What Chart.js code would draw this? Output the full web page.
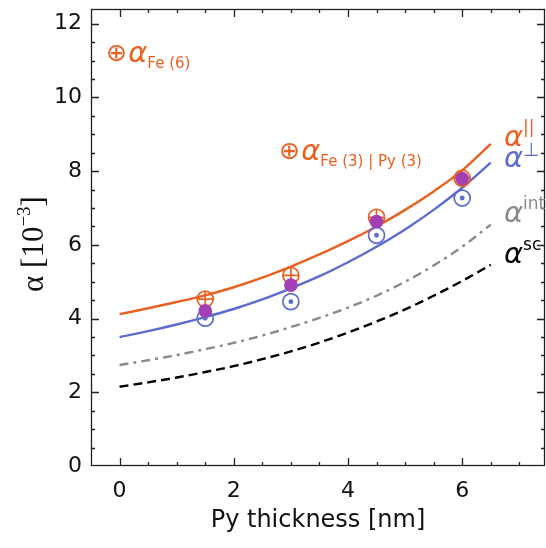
<!DOCTYPE html>
<html>
<head>
<meta charset="utf-8">
<style>
html, body { margin: 0; padding: 0; background: #fff; overflow: hidden; }
#wrap { width: 546px; height: 548px; }
canvas { display: block; }
</style>
</head>
<body>
<div id="wrap"><canvas id="chart"></canvas></div>
<script src="https://cdn.jsdelivr.net/npm/chart.js@4/dist/chart.umd.min.js"></script>
<script>
// fitted curves, every 0.5 nm
const thickness = [0, 0.5, 1, 1.5, 2, 2.5, 3, 3.5, 4, 4.5, 5, 5.5, 6, 6.5]
const alphaPar  = [4.12, 4.28, 4.45, 4.63, 4.85, 5.11, 5.41, 5.74, 6.1, 6.5, 6.95, 7.45, 8.02, 8.74]
const alphaPerp = [3.5, 3.66, 3.84, 4.04, 4.26, 4.52, 4.82, 5.15, 5.53, 5.95, 6.42, 6.95, 7.55, 8.23]
const alphaInt  = [2.74, 2.87, 3.01, 3.17, 3.34, 3.54, 3.77, 4.02, 4.3, 4.62, 5.0, 5.44, 5.95, 6.55]
const alphaSc   = [2.15, 2.27, 2.4, 2.55, 2.71, 2.9, 3.11, 3.35, 3.62, 3.92, 4.25, 4.62, 5.02, 5.46]

// measured points
const sampleX  = [1.5, 3, 4.5, 6]
const measPar  = [4.53, 5.17, 6.75, 7.81]
const measPerp = [4.01, 4.46, 6.26, 7.27]
const measMix  = [4.21, 4.91, 6.63, 7.8]

const xTicks = [0, 2, 4, 6]
const yTicks = [0, 2, 4, 6, 8, 10, 12]

const ORANGE = '#ea6020'
const BLUE = '#5a6cd0'
const PURPLE = '#a040b4'
const GRAY = '#8a8a8a'
const FONT = '"DejaVu Sans", Verdana, sans-serif'
const SERIF = '"Liberation Serif", "DejaVu Serif", serif'

const pts = (xs, ys) => xs.map((v, i) => ({x: v, y: ys[i]}))

const curve = (data, color, dash) => ({
    type: 'line', data: pts(thickness, data), borderColor: color, borderWidth: 2.4,
    borderDash: dash, pointRadius: 0, cubicInterpolationMode: 'monotone', fill: false, order: 5
})

const marks = (data, style, color, r, fillColor, order) => ({
    type: 'scatter', data: pts(sampleX, data), pointStyle: style, pointRadius: r,
    pointBorderColor: color, pointBackgroundColor: fillColor, pointBorderWidth: 1.7,
    pointHoverRadius: r, order: order
})

// draw a run of text pieces: [text, size, color, dy, italic, family]
function rich(ctx, x, y, parts) {
    ctx.textBaseline = 'alphabetic'
    ctx.textAlign = 'left'
    for (const [t, size, color, dy, it, fam] of parts) {
        ctx.font = (it ? 'italic ' : '') + size + 'px ' + (fam || FONT)
        ctx.fillStyle = color
        ctx.fillText(t, x, y + (dy || 0))
        x += ctx.measureText(t).width
    }
    return x
}

const decor = {
    id: 'decor',
    afterDatasetsDraw(chart) {
        const {ctx, chartArea: a, scales: {x, y}} = chart
        ctx.save()
        ctx.strokeStyle = '#222'
        ctx.lineWidth = 1.3
        ctx.strokeRect(a.left + 0.5, a.top + 0.5, a.right - a.left - 1, a.bottom - a.top - 1)
        ctx.beginPath()
        for (let v = 0; v <= 7; v += 0.5) {
            const len = xTicks.includes(v) ? 8 : 4
            const px = Math.round(x.getPixelForValue(v)) + 0.5
            ctx.moveTo(px, a.bottom); ctx.lineTo(px, a.bottom - len)
            ctx.moveTo(px, a.top); ctx.lineTo(px, a.top + len)
        }
        for (let v = 0.5; v <= 12; v += 0.5) {
            const len = yTicks.includes(v) ? 8 : 4
            const py = Math.round(y.getPixelForValue(v)) + 0.5
            ctx.moveTo(a.left, py); ctx.lineTo(a.left + len, py)
            ctx.moveTo(a.right, py); ctx.lineTo(a.right - len, py)
        }
        ctx.stroke()

        // annotations
        rich(ctx, 106, 62, [['\u2295', 25, ORANGE, -1], [' ', 4, ORANGE], ['\u03b1', 29, ORANGE, 0, true], ['Fe (6)', 15, ORANGE, 6]])
        rich(ctx, 279, 160, [['\u2295', 25, ORANGE, -1], [' ', 4, ORANGE], ['\u03b1', 29, ORANGE, 0, true], ['Fe (3) | Py (3)', 15, ORANGE, 6]])

        rich(ctx, 504, 146, [['\u03b1', 29, ORANGE, 0, true], ['||', 17, ORANGE, -13]])
        rich(ctx, 504, 167, [['\u03b1', 29, BLUE, 0, true], ['\u22a5', 19, BLUE, -11]])
        rich(ctx, 504, 222, [['\u03b1', 29, GRAY, 0, true], ['int', 17, GRAY, -13]])
        rich(ctx, 504, 263, [['\u03b1', 29, '#000', 0, true], ['sc', 17, '#000', -13]])

        // axis titles
        ctx.fillStyle = '#111'
        ctx.font = '24px ' + FONT
        ctx.textAlign = 'center'
        ctx.textBaseline = 'middle'
        ctx.fillText('Py thickness [nm]', 318, 521)

        ctx.translate(33, 244)
        ctx.rotate(-Math.PI / 2)
        const parts = [['\u03b1 [10', 31, '#111', 0, false, SERIF], ['\u22123', 19, '#111', -13, false, SERIF], [']', 31, '#111', 0, false, SERIF]]
        const w = rich(ctx, 0, -1000, parts)
        rich(ctx, -w / 2, 10, parts)
        ctx.restore()
    }
}

new Chart(document.getElementById('chart'), {
    data: {
        datasets: [
            marks(measMix, 'circle', PURPLE, 6, PURPLE, 0),
            marks(measPerp, 'circle', BLUE, 1.6, BLUE, 1),
            marks(measPerp, 'circle', BLUE, 8, 'rgba(0,0,0,0)', 2),
            marks(measPar, 'cross', ORANGE, 8, 'rgba(0,0,0,0)', 3),
            marks(measPar, 'circle', ORANGE, 8, 'rgba(0,0,0,0)', 4),
            curve(alphaPar, ORANGE, []),
            curve(alphaPerp, BLUE, []),
            curve(alphaInt, GRAY, [9, 5, 3, 5]),
            curve(alphaSc, '#000', [9, 5])
        ]
    },
    options: {
        responsive: true, maintainAspectRatio: false, animation: false,
        layout: {autoPadding: false, padding: {top: 9, right: 1, left: 0, bottom: 0}},
        plugins: {legend: {display: false}, tooltip: {enabled: false}},
        scales: {
            x: {
                type: 'linear', min: -0.5, max: 7.45,
                afterBuildTicks: s => { s.ticks = xTicks.map(v => ({value: v})) },
                afterFit: s => { s.height = 82; s.paddingLeft = 0; s.paddingRight = 0 },
                grid: {display: false, drawTicks: false}, border: {display: false},
                ticks: {color: '#111', font: {family: FONT, size: 22}, padding: 12, maxRotation: 0}
            },
            y: {
                type: 'linear', min: 0, max: 12.4,
                afterBuildTicks: s => { s.ticks = yTicks.map(v => ({value: v})) },
                afterFit: s => { s.width = 91; s.paddingTop = 0; s.paddingBottom = 0 },
                grid: {display: false, drawTicks: false}, border: {display: false},
                ticks: {color: '#111', font: {family: FONT, size: 22}, padding: 9}
            }
        }
    },
    plugins: [decor]
})
</script>
</body>
</html>
